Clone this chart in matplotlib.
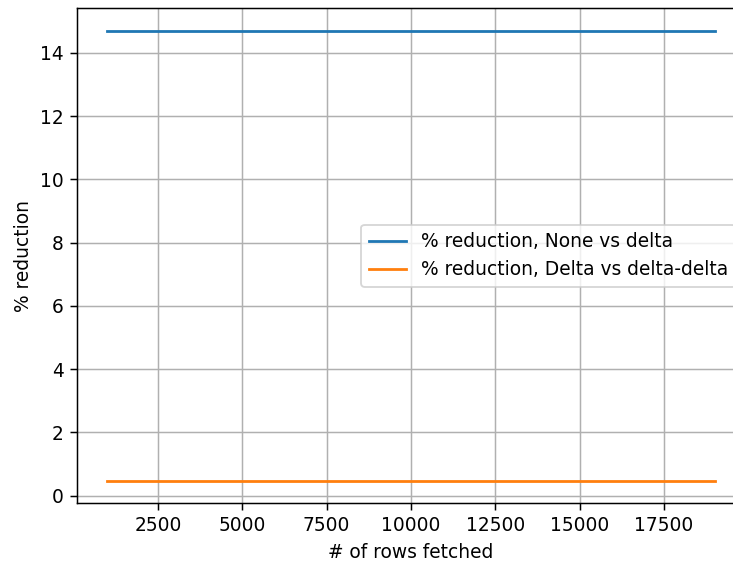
import matplotlib
matplotlib.use("Agg")
import matplotlib.pyplot as plt

rows_fetched = list(range(1000, 20000, 1000))
none_vs_delta = [14.70] * len(rows_fetched)
delta_vs_deltadelta = [0.47] * len(rows_fetched)

dpi = 134
fig = plt.figure(figsize=(733 / dpi, 563 / dpi), dpi=dpi)
# the original screenshot cuts off the right side of the axes
ax = fig.add_axes([77 / 733, (563 - 503.3) / 563, (745 - 77) / 733, (503.3 - 8.3) / 563])

ax.plot(rows_fetched, none_vs_delta, label="% reduction, None vs delta")
ax.plot(rows_fetched, delta_vs_deltadelta, label="% reduction, Delta vs delta-delta")

ax.set_xlabel("# of rows fetched")
ax.set_ylabel("% reduction")
ax.set_xticks([2500, 5000, 7500, 10000, 12500, 15000, 17500])
ax.grid(True)
ax.legend(loc="center right")

fig.savefig("out.png", dpi=dpi)
